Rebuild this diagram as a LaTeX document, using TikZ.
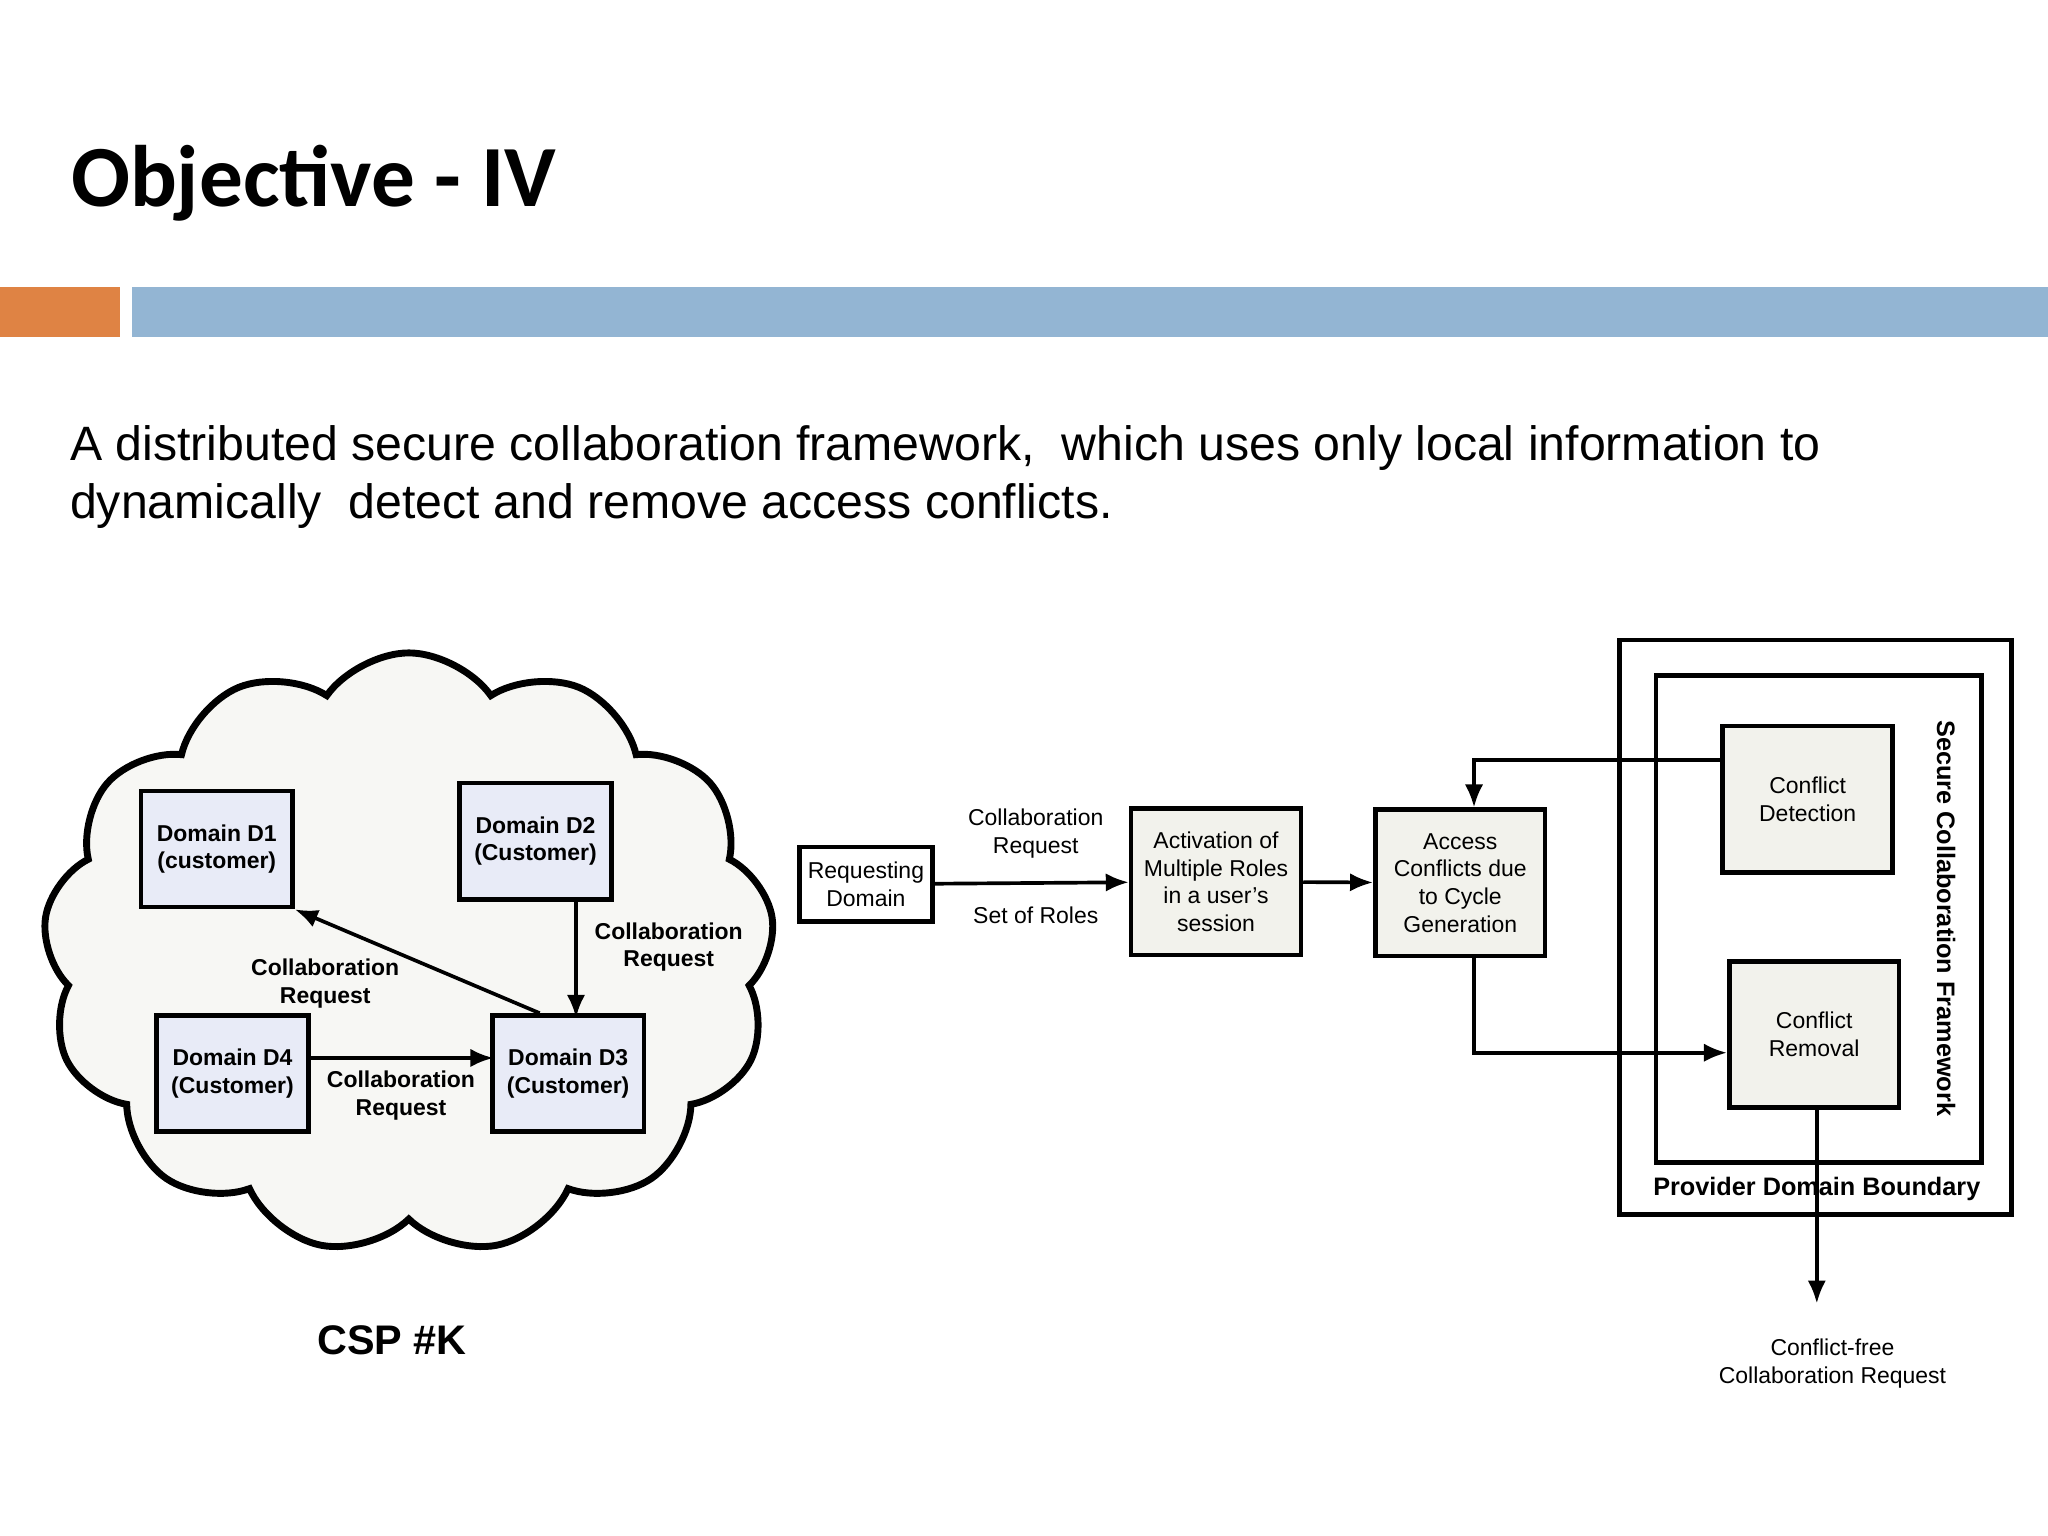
\documentclass[tikz,border=0pt]{standalone}
\usepackage{fontspec}
\setmainfont{Liberation Sans}
\newfontfamily\titlefont{Carlito}
\usetikzlibrary{shapes.symbols,arrows.meta}
\definecolor{barorange}{HTML}{DF8344}
\definecolor{barblue}{HTML}{93B5D3}
\definecolor{domfill}{HTML}{E8EBF7}
\definecolor{boxfill}{HTML}{F2F2EC}
\begin{document}
\begin{tikzpicture}[x=0.01cm, y=-0.01cm,
  dom/.style={draw, line width=1pt, fill=domfill, minimum width=1.16cm, minimum height=0.89cm, font=\fontsize{5}{6}\selectfont\bfseries, align=center, inner sep=1pt},
  blk/.style={draw, line width=1pt, fill=boxfill, minimum width=1.3cm, minimum height=1.12cm, font=\fontsize{5}{6}\selectfont, align=center, inner sep=1pt},
  lbl/.style={font=\fontsize{5}{6}\selectfont, align=center, inner sep=1pt},
  arr/.style={-{Latex[length=5pt,width=4pt]}, line width=0.8pt}]

  \useasboundingbox (0,0) rectangle (1568,1176);
  \fill[white] (0,0) rectangle (1568,1176);

  % header
  \node[anchor=west, font=\titlefont\bfseries\fontsize{19}{22}\selectfont] (title) at (42,140) {Objective - IV};
  \fill[barorange] (0,220) rectangle (92,258);
  \fill[barblue] (101,220) rectangle (1568,258);
  \node[anchor=north west, align=left, font=\fontsize{10.5}{12.6}\selectfont, inner sep=0pt] (intro) at (53,325)
    {A distributed secure collaboration framework,\ \ which uses only local information to\\dynamically\ \ detect and remove access conflicts.};

  % cloud
  \node[cloud, cloud puffs=13, cloud puff arc=110, aspect=1.25, draw, line width=1.5pt, fill=boxfill!60,
        minimum width=5.6cm, minimum height=4.6cm] (csp) at (313,730) {};
  \node[font=\bfseries\fontsize{9}{10}\selectfont] (cspl) at (300,1026) {CSP \#K};

  \node[dom] (d1) at (166,650) {Domain D1\\(customer)};
  \node[dom] (d2) at (410,644) {Domain D2\\(Customer)};
  \node[dom] (d4) at (178,822) {Domain D4\\(Customer)};
  \node[dom] (d3) at (435,822) {Domain D3\\(Customer)};

  \draw[arr] (d3.north west) ++(38,0) -- (d1.south east);
  \draw[arr] (d2.south) ++(31,0) -- ++(0,89);
  \draw[arr] (d4.east |- d3.west) ++(0,-12) -- ++(140,0);
  \node[lbl, font=\fontsize{5}{6}\selectfont\bfseries] at (249,753) {Collaboration\\Request};
  \node[lbl, font=\fontsize{5}{6}\selectfont\bfseries] at (512,725) {Collaboration\\Request};
  \node[lbl, font=\fontsize{5}{6}\selectfont\bfseries] at (307,839) {Collaboration\\Request};

  % framework
  \node[draw, line width=1pt, minimum width=1.02cm, minimum height=0.57cm, lbl, fill=white] (req) at (663,677) {Requesting\\Domain};
  \node[blk] (act) at (931,675) {Activation of\\Multiple Roles\\in a user's\\session};
  \node[blk] (acc) at (1118,676) {Access\\Conflicts due\\to Cycle\\Generation};
  \draw[arr] (req) -- (act);
  \draw[arr] (act) -- (acc);
  \node[lbl] at (793,638) {Collaboration\\Request};
  \node[lbl] at (793,701) {Set of Roles};

  \draw[line width=1pt] (1240,490) rectangle (1540,930);
  \draw[line width=1pt] (1268,517) rectangle (1517,890);
  \node[blk] (cd) at (1384,612) {Conflict\\Detection};
  \node[blk] (cr) at (1389,792) {Conflict\\Removal};
  \node[lbl, font=\fontsize{5.5}{6}\selectfont\bfseries] at (1391,910) {Provider Domain Boundary};
  \node[lbl, rotate=-90, font=\fontsize{5.5}{6}\selectfont\bfseries] at (1490,703) {Secure Collaboration Framework};

  \coordinate (cdl) at (1319,582);
  \draw[arr] (cdl) -| ([xshift=3pt]acc.north);
  \draw[arr] ([xshift=3pt]acc.south) |- (cr.west |- 0,806);
  \coordinate (out) at (1391,998);
  \draw[arr] (cr.south) ++(2,0) -- (out);
  \node[lbl] (free) at (1403,1044) {Conflict-free\\Collaboration Request};
\end{tikzpicture}
\end{document}
